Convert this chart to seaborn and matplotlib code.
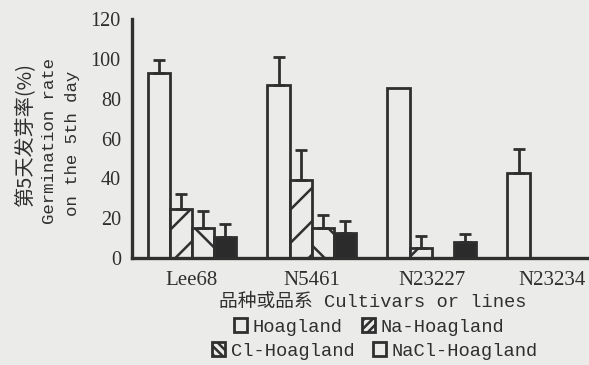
import numpy as np
import pandas as pd
import matplotlib
matplotlib.use("Agg")
import matplotlib.pyplot as plt
from matplotlib.patches import Patch
import seaborn as sns

# Germination rate on the 5th day (%) per cultivar / line and treatment
lines = ["Lee68", "N5461", "N23227", "N23234"]
treatments = ["Hoagland", "Na-Hoagland", "Cl-Hoagland", "NaCl-Hoagland"]
hoagland = [92.8, 86.7, 85.2, 42.5]
na_hoagland = [24.4, 39.0, 4.9, 0.0]
cl_hoagland = [15.2, 15.2, 0.0, 0.0]
nacl_hoagland = [10.4, 12.4, 8.2, 0.0]
# upper standard errors
hoagland_err = [6.5, 14.0, 0.0, 12.0]
na_err = [7.6, 15.0, 6.0, 0.0]
cl_err = [8.6, 6.4, 0.0, 0.0]
nacl_err = [6.5, 6.2, 3.7, 0.0]
y_ticks = [0, 20, 40, 60, 80, 100, 120]

values = [hoagland, na_hoagland, cl_hoagland, nacl_hoagland]
errors = [hoagland_err, na_err, cl_err, nacl_err]

df = pd.DataFrame({
    "line": np.tile(lines, len(treatments)),
    "treatment": np.repeat(treatments, len(lines)),
    "rate": np.concatenate(values),
})

sns.set_theme(style="white")
BG = "#ebebea"
INK = "#2f2f2f"
mono = ["Liberation Mono", "Noto Sans CJK SC", "DejaVu Sans"]
serif = ["Liberation Serif", "DejaVu Serif"]
plt.rcParams["font.family"] = mono
plt.rcParams["hatch.linewidth"] = 1.8
plt.rcParams["hatch.color"] = INK

fig = plt.figure(figsize=(5.89, 3.65), dpi=100, facecolor=BG)
ax = fig.add_axes([0.224, 0.293, 0.776, 0.655])
ax.set_facecolor(BG)

palette = {"Hoagland": BG, "Na-Hoagland": BG, "Cl-Hoagland": BG, "NaCl-Hoagland": "#2b2b2b"}
sns.barplot(data=df, x="line", y="rate", hue="treatment", order=lines,
            hue_order=treatments, palette=palette, width=0.74, errorbar=None,
            edgecolor=INK, linewidth=2.0, legend=False, ax=ax, saturation=1)

hatches = ["", "/", "\\", ""]
for cont, hatch, errs in zip(ax.containers, hatches, errors):
    for bar, e in zip(cont, errs):
        bar.set_hatch(hatch)
        if e > 0:
            xc = bar.get_x() + bar.get_width() / 2
            h = bar.get_height()
            ax.errorbar([xc], [h], yerr=[[0], [e]], fmt="none", ecolor=INK,
                        elinewidth=2.0, capsize=4.5, capthick=2.0, zorder=1)

ax.set_xlim(-0.5, 3.31)
ax.set_ylim(0, 120)
ax.set_yticks(y_ticks)
ax.set_xlabel("")
ax.set_ylabel("")
sns.despine(ax=ax, top=True, right=True)
for side in ("left", "bottom"):
    ax.spines[side].set_linewidth(2.4)
    ax.spines[side].set_color(INK)
ax.tick_params(axis="y", direction="in", length=9, width=2.2, color=INK,
               pad=8, labelsize=14.5, labelcolor=INK)
ax.tick_params(axis="x", length=0, pad=9, labelsize=15, labelcolor=INK)
for lab in ax.get_yticklabels() + ax.get_xticklabels():
    lab.set_family(serif)

# multi-line y-axis title
fig.text(25 / 589, 1 - 135 / 365, "第5天发芽率(%)", rotation=90, ha="center",
         va="center", fontsize=14.5, color=INK, family=["Noto Sans CJK SC", "DejaVu Sans"])
fig.text(50 / 589, 1 - 141 / 365, "Germination rate", rotation=90, ha="center",
         va="center", fontsize=12.5, color=INK)
fig.text(72 / 589, 1 - 143 / 365, "on the 5th day", rotation=90, ha="center",
         va="center", fontsize=12.5, color=INK)

fig.text(373 / 589, 1 - 302 / 365, "品种或品系 Cultivars or lines", ha="center",
         va="center", fontsize=13.5, color=INK)

# legend, two centred rows
def handle(hatch):
    return Patch(facecolor=BG, edgecolor=INK, linewidth=2.0, hatch=hatch)

row1 = [handle(""), handle("////")]
row2 = [handle("\\\\\\\\"), handle("")]
leg_kw = dict(ncol=2, frameon=False, fontsize=13.5, handlelength=0.7,
              handleheight=0.7, handletextpad=0.3, columnspacing=1.0,
              borderpad=0, labelcolor=INK, loc="center")
leg1 = fig.legend(row1, treatments[:2], bbox_to_anchor=(369 / 589, 1 - 327 / 365), **leg_kw)
leg2 = fig.legend(row2, treatments[2:], bbox_to_anchor=(375 / 589, 1 - 351 / 365), **leg_kw)

fig.savefig("out.png", dpi=100, facecolor=BG)
